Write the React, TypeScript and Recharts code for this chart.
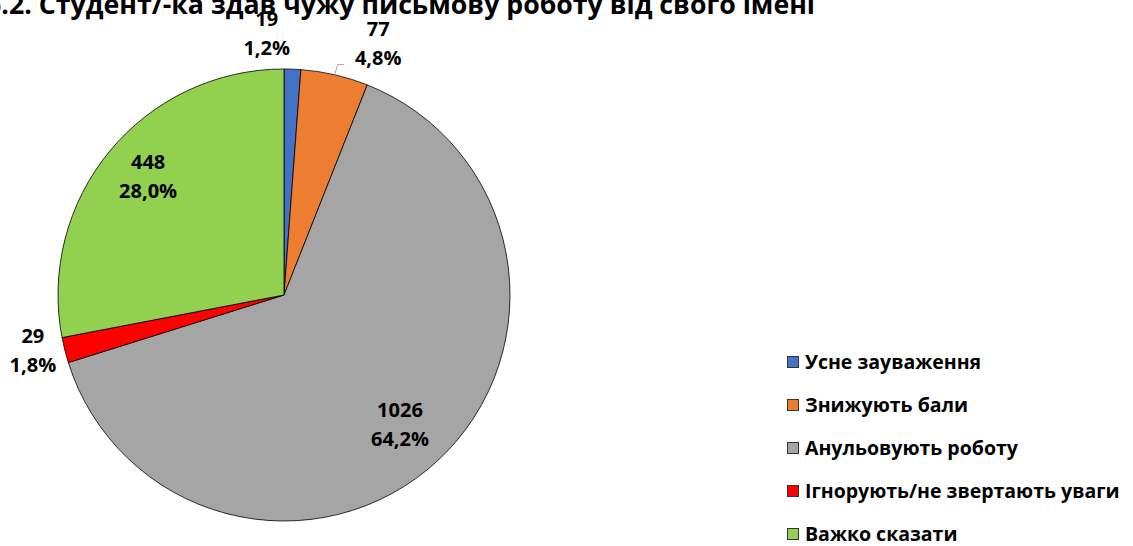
import React from "react";
import { PieChart, Pie, Cell, Legend } from "recharts";

if (typeof document !== "undefined") {
  document.body.style.margin = "0";
}

const TITLE = "6.2. Студент/-ка здав чужу письмову роботу від свого імені";
const categories = [
  "Усне зауваження",
  "Знижують бали",
  "Анульовують роботу",
  "Ігнорують/не звертають уваги",
  "Важко сказати",
];
const counts = [19, 77, 1026, 29, 448];
const colors = ["#4472C4", "#ED7D31", "#A5A5A5", "#FF0000", "#92D050"];

const total = counts.reduce((a, b) => a + b, 0);
const data = categories.map((name, i) => ({ name, value: counts[i] }));

const FONT = "'Open Sans', 'Noto Sans', sans-serif";
const RAD = Math.PI / 180;

const fmtPct = (v: number) => ((v / total) * 100).toFixed(1).replace(".", ",") + "%";

// small label nudges (like Excel's collision avoidance)
const NUDGE: Record<number, [number, number]> = {
  0: [-27, -2],
  1: [36, 1],
  3: [1, -8],
  4: [0, -7],
  2: [-4, 0],
};

const renderLabel = (props: any) => {
  const { cx, cy, midAngle, outerRadius, index, value } = props;
  const share = value / total;
  const inside = share > 0.1;
  const r = inside ? outerRadius * 0.78 : outerRadius + 34;
  let x = cx + r * Math.cos(-midAngle * RAD);
  let y = cy + r * Math.sin(-midAngle * RAD);
  if (NUDGE[index]) {
    x += NUDGE[index][0];
    y += NUDGE[index][1];
  }
  const edgeX = cx + outerRadius * Math.cos(-midAngle * RAD);
  const edgeY = cy + outerRadius * Math.sin(-midAngle * RAD);
  return (
    <g key={`lbl-${index}`}>
      {index === 1 && (
        <polyline
          points={`${edgeX},${edgeY} ${edgeX + 3},${y + 22} ${x - 34},${y + 22}`}
          fill="none"
          stroke="#A6A6A6"
          strokeWidth={1}
        />
      )}
      <text
        x={x}
        y={y}
        textAnchor="middle"
        fontFamily={FONT}
        fontWeight={700}
        fontSize={20}
        fill="#000"
      >
        <tspan x={x} dy={-7}>{value}</tspan>
        <tspan x={x} dy={29}>{fmtPct(value)}</tspan>
      </text>
    </g>
  );
};

const renderLegend = () => (
  <div style={{ fontFamily: FONT, fontWeight: 700, fontSize: 19.5, color: "#000" }}>
    {categories.map((name, i) => (
      <div
        key={`leg-${i}`}
        style={{ display: "flex", alignItems: "center", height: 43, whiteSpace: "nowrap" }}
      >
        <span
          style={{
            display: "inline-block",
            width: 10,
            height: 10,
            background: colors[i],
            border: "1px solid #333",
            marginRight: 6,
          }}
        />
        <span>{name}</span>
      </div>
    ))}
  </div>
);

export default function App() {
  return (
    <div style={{ width: 1133, height: 546, background: "#fff", position: "relative", overflow: "hidden" }}>
      <PieChart width={1133} height={546} margin={{ top: 0, right: 0, bottom: 0, left: 0 }}>
        <text
          x={-14}
          y={14}
          fontFamily={FONT}
          fontWeight={700}
          fontSize={27}
          textLength={829}
          lengthAdjust="spacingAndGlyphs"
          fill="#000"
        >
          {TITLE}
        </text>
        <Pie
          data={data}
          dataKey="value"
          nameKey="name"
          cx={284}
          cy={295}
          outerRadius={226}
          startAngle={90}
          endAngle={-270}
          stroke="#000"
          strokeWidth={0.8}
          label={renderLabel}
          labelLine={false}
          isAnimationActive={false}
        >
          {data.map((d, i) => (
            <Cell key={`c-${i}`} fill={colors[i]} />
          ))}
        </Pie>
        <Legend
          layout="vertical"
          align="right"
          verticalAlign="top"
          content={renderLegend}
          wrapperStyle={{ left: 787, top: 340, width: 346, right: "auto" }}
        />
      </PieChart>
    </div>
  );
}
